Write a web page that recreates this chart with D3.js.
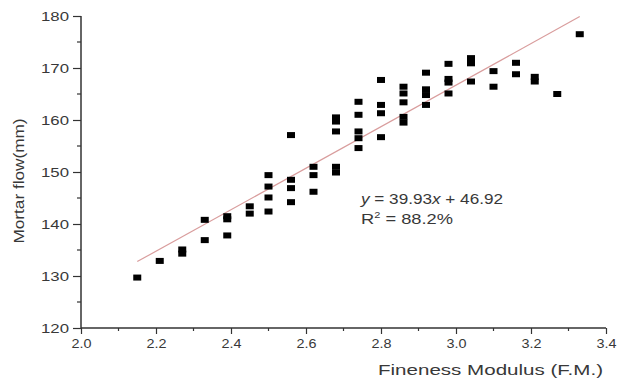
<!DOCTYPE html>
<html>
<head>
<meta charset="utf-8">
<script src="https://cdn.jsdelivr.net/npm/d3@7"></script>
<style>
  html, body { margin: 0; padding: 0; background: #fff; }
  svg { display: block; }
  text { font-family: "Liberation Sans", Arial, sans-serif; }
</style>
</head>
<body>
<svg id="chart" width="617" height="380"></svg>
<script>
// Fineness modulus of the sand (x) and measured mortar flow in mm (y)
const fineness = [
  2.15,
  2.21,
  2.27, 2.27,
  2.33, 2.33,
  2.39, 2.39, 2.39,
  2.45, 2.45,
  2.50, 2.50, 2.50, 2.50,
  2.56, 2.56, 2.56, 2.56,
  2.62, 2.62, 2.62,
  2.68, 2.68, 2.68, 2.68, 2.68,
  2.74, 2.74, 2.74, 2.74, 2.74,
  2.80, 2.80, 2.80, 2.80,
  2.86, 2.86, 2.86, 2.86, 2.86,
  2.92, 2.92, 2.92, 2.92,
  2.98, 2.98, 2.98, 2.98,
  3.04, 3.04, 3.04,
  3.10, 3.10,
  3.16, 3.16,
  3.21, 3.21,
  3.27,
  3.33
];
const flow = [
  129.7,
  132.9,
  135.1, 134.3,
  140.8, 136.9,
  141.5, 140.9, 137.8,
  143.4, 142.0,
  149.4, 147.2, 145.1, 142.4,
  157.1, 148.5, 146.9, 144.2,
  151.0, 149.4, 146.2,
  160.5, 159.7, 157.8, 151.0, 149.9,
  163.5, 161.0, 157.8, 156.5, 154.6,
  167.7, 162.9, 161.3, 156.7,
  166.4, 165.1, 163.4, 160.6, 159.5,
  169.1, 165.9, 164.8, 162.9,
  170.8, 167.9, 167.2, 165.1,
  171.9, 170.9, 167.4,
  169.4, 166.4,
  171.0, 168.8,
  168.3, 167.4,
  165.0,
  176.5
];

// Linear fit reported on the chart
const slope = 39.93;
const intercept = 46.92;
const fitRange = [2.15, 3.33];

const xTicks = [2.0, 2.2, 2.4, 2.6, 2.8, 3.0, 3.2, 3.4];
const xMinor = [2.1, 2.3, 2.5, 2.7, 2.9, 3.1, 3.3];
const yTicks = [120, 130, 140, 150, 160, 170, 180];
const yMinor = [125, 135, 145, 155, 165, 175];

const svg = d3.select("#chart");
const axisColor = "#333";
const labelColor = "#383838";

const x = d3.scaleLinear().domain([2.0, 3.4]).range([81, 606]);
const y = d3.scaleLinear().domain([120, 180]).range([328, 16]);

// Y axis
const yAxis = svg.append("g").attr("transform", `translate(${x.range()[0]},0)`)
  .call(d3.axisLeft(y).tickValues(yTicks).tickSize(8).tickPadding(4).tickFormat(d3.format("d")));
yAxis.append("g").selectAll("line").data(yMinor).join("line")
  .attr("x1", -4).attr("x2", 0).attr("y1", d => y(d)).attr("y2", d => y(d));

// X axis
const xAxis = svg.append("g").attr("transform", `translate(0,${y.range()[0]})`)
  .call(d3.axisBottom(x).tickValues(xTicks).tickSize(6).tickPadding(5).tickFormat(d3.format(".1f")));
xAxis.append("g").selectAll("line").data(xMinor).join("line")
  .attr("y1", 0).attr("y2", 3).attr("x1", d => x(d)).attr("x2", d => x(d));

[xAxis, yAxis].forEach(g => {
  g.select(".domain").remove();
  g.selectAll("line").attr("stroke", axisColor).attr("stroke-width", 1.2);
  g.selectAll("text").attr("fill", labelColor).attr("font-size", 13)
    .attr("font-family", "Liberation Sans, Arial, sans-serif");
});

// Plain axis lines
svg.append("line").attr("x1", x(2.0)).attr("x2", x(2.0)).attr("y1", y(180)).attr("y2", y(120))
  .attr("stroke", axisColor).attr("stroke-width", 1.5);
svg.append("line").attr("x1", x(2.0)).attr("x2", x(3.4)).attr("y1", y(120)).attr("y2", y(120))
  .attr("stroke", axisColor).attr("stroke-width", 1.5);

// Slightly widened tick labels
xAxis.selectAll(".tick text").attr("textLength", 20).attr("lengthAdjust", "spacingAndGlyphs");
yAxis.selectAll(".tick text").attr("textLength", 28).attr("lengthAdjust", "spacingAndGlyphs");

// Fitted regression line
svg.append("line")
  .attr("x1", x(fitRange[0])).attr("y1", y(slope * fitRange[0] + intercept))
  .attr("x2", x(fitRange[1])).attr("y2", y(slope * fitRange[1] + intercept))
  .attr("stroke", "#d99d9d").attr("stroke-width", 1.2);

// Data points as filled squares
const mw = 8, mh = 6;
svg.append("g").selectAll("rect").data(fineness.map((f, i) => [f, flow[i]])).join("rect")
  .attr("x", d => x(d[0]) - mw / 2)
  .attr("y", d => y(d[1]) - mh / 2)
  .attr("width", mw).attr("height", mh)
  .attr("fill", "#000");

// Axis titles
svg.append("text")
  .attr("x", 378).attr("y", 375)
  .attr("font-size", 14.5).attr("fill", labelColor)
  .attr("textLength", 225).attr("lengthAdjust", "spacingAndGlyphs")
  .text("Fineness Modulus (F.M.)");

svg.append("text")
  .attr("transform", "translate(24,181) rotate(-90)")
  .attr("text-anchor", "middle")
  .attr("font-size", 14.5).attr("fill", labelColor)
  .attr("textLength", 125).attr("lengthAdjust", "spacingAndGlyphs")
  .text("Mortar flow(mm)");

// Regression equation and R²
const eq = svg.append("text")
  .attr("x", 361).attr("y", 204)
  .attr("font-size", 14.5).attr("fill", labelColor)
  .attr("textLength", 142).attr("lengthAdjust", "spacingAndGlyphs");
eq.append("tspan").attr("font-style", "italic").text("y");
eq.append("tspan").text(` = ${slope}`);
eq.append("tspan").attr("font-style", "italic").text("x");
eq.append("tspan").text(` + ${intercept}`);

const r2 = svg.append("text")
  .attr("x", 361).attr("y", 224)
  .attr("font-size", 15).attr("fill", labelColor)
  .attr("textLength", 92).attr("lengthAdjust", "spacingAndGlyphs");
r2.append("tspan").text("R");
r2.append("tspan").attr("font-size", 9).attr("dy", -6).text("2");
r2.append("tspan").attr("dy", 6).text(" = 88.2%");
</script>
</body>
</html>
